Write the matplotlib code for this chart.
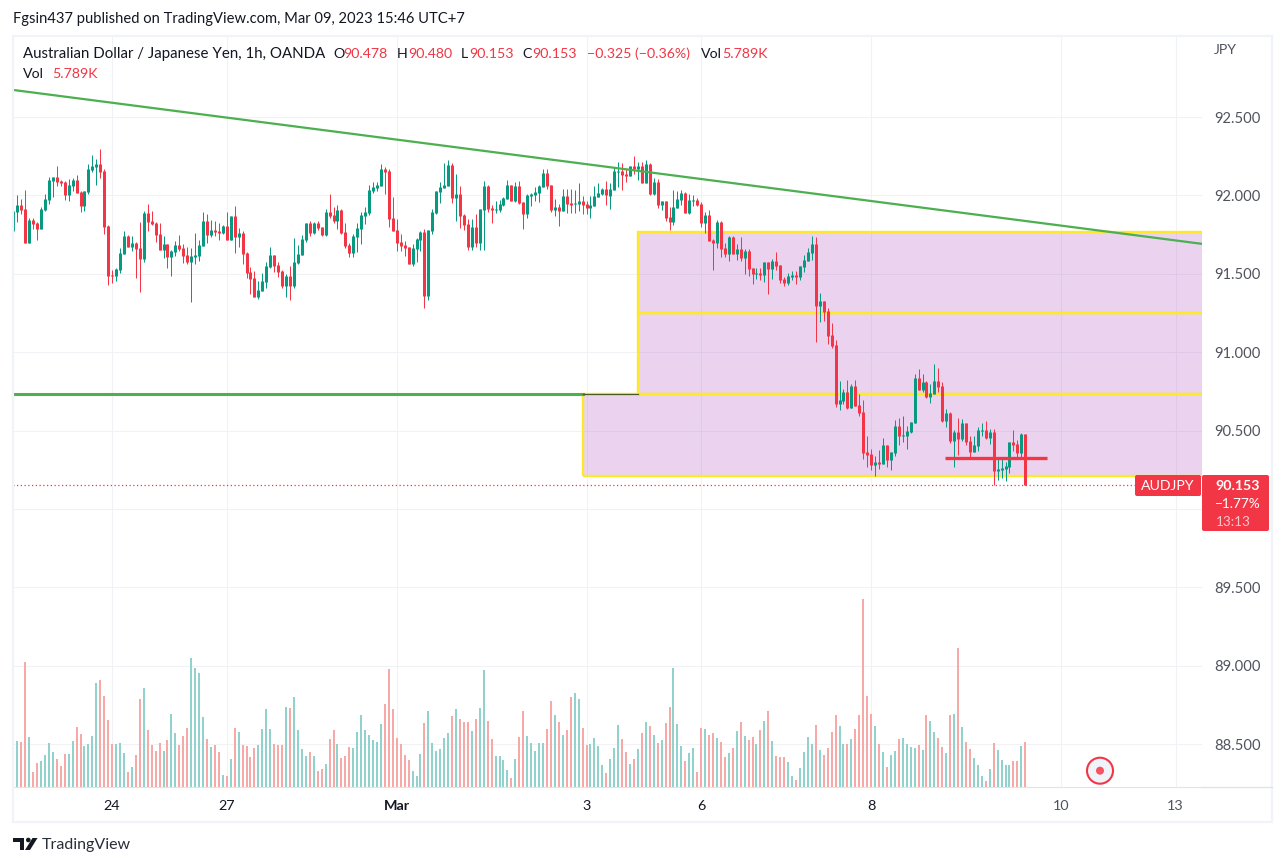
#!/usr/bin/env python3
"""AUD/JPY 1h TradingView snapshot: candles, volume and drawn zones."""

import matplotlib
matplotlib.use('Agg')
import matplotlib.pyplot as plt
from matplotlib.patches import Circle, FancyBboxPatch, Polygon, Rectangle

plt.rcParams['font.family'] = ['Lato', 'DejaVu Sans']

UP = '#089981'
DOWN = '#f23645'
UP_VOL = '#92d2cc'
DOWN_VOL = '#f7a9a7'
GRID = '#f1f2f6'
FRAME = '#f0f3fa'
TEXT = '#131722'
MUTED = '#50535e'

# one value per hourly bar
opens = [
    91.772, 91.894, 91.938, 91.913, 91.696, 91.843, 91.823, 91.785, 91.906, 91.970,
    92.091, 92.117, 92.091, 92.085, 92.002, 92.059, 92.098, 92.021, 91.932, 92.021,
    92.162, 92.181, 92.200, 92.155, 91.804, 91.492, 91.485, 91.523, 91.626, 91.740,
    91.670, 91.696, 91.664, 91.594, 91.887, 91.836, 91.823, 91.753, 91.651, 91.689,
    91.606, 91.638, 91.683, 91.664, 91.619, 91.575, 91.606, 91.613, 91.677, 91.836,
    91.747, 91.779, 91.772, 91.760, 91.804, 91.715, 91.868, 91.734, 91.760, 91.632,
    91.511, 91.472, 91.351, 91.389, 91.447, 91.543, 91.619, 91.555, 91.517, 91.421,
    91.485, 91.421, 91.568, 91.619, 91.715, 91.823, 91.760, 91.823, 91.798, 91.747,
    91.894, 91.874, 91.836, 91.906, 91.766, 91.683, 91.632, 91.734, 91.785, 91.868,
    91.887, 92.028, 92.047, 92.059, 92.168, 92.155, 91.855, 91.779, 91.702, 91.683,
    91.670, 91.562, 91.657, 91.715, 91.766, 91.358, 91.772, 91.887, 92.021, 92.047,
    92.059, 92.193, 91.983, 92.008, 91.874, 91.817, 91.670, 91.798, 91.696, 91.906,
    92.059, 91.919, 91.906, 91.906, 91.938, 91.977, 92.066, 91.964, 92.059, 91.957,
    91.881, 91.996, 92.002, 92.015, 92.053, 92.142, 92.066, 91.906, 91.925, 91.900,
    91.996, 91.951, 91.945, 91.945, 91.964, 91.945, 91.919, 91.932, 91.989, 92.008,
    92.040, 91.996, 92.034, 92.149, 92.155, 92.136, 92.123, 92.187, 92.168, 92.187,
    92.079, 92.200, 92.008, 92.085, 91.939, 91.964, 91.862, 91.830, 91.920, 91.971,
    92.015, 91.888, 91.964, 91.971, 91.945, 91.824, 91.875, 91.715, 91.696, 91.830,
    91.664, 91.626, 91.734, 91.626, 91.658, 91.600, 91.645, 91.537, 91.498, 91.505,
    91.492, 91.575, 91.530, 91.581, 91.556, 91.466, 91.441, 91.479, 91.492, 91.479,
    91.543, 91.581, 91.632, 91.690, 91.294, 91.326, 91.262, 91.109, 91.045, 90.669,
    90.688, 90.745, 90.643, 90.784, 90.662, 90.618, 90.362, 90.350, 90.280, 90.299,
    90.286, 90.407, 90.311, 90.356, 90.528, 90.465, 90.465, 90.490, 90.548, 90.835,
    90.758, 90.809, 90.713, 90.733, 90.816, 90.784, 90.560, 90.611, 90.433, 90.490,
    90.445, 90.548, 90.433, 90.362, 90.401, 90.497, 90.503, 90.452, 90.490, 90.241,
    90.248, 90.254, 90.267, 90.426, 90.414, 90.356, 90.478,
]
highs = [
    91.928, 92.002, 91.977, 92.034, 91.855, 91.855, 91.830, 91.925, 92.008, 92.117,
    92.117, 92.187, 92.098, 92.091, 92.104, 92.111, 92.130, 92.028, 92.028, 92.200,
    92.257, 92.232, 92.296, 92.168, 91.811, 91.523, 91.536, 91.664, 91.772, 91.747,
    91.740, 91.702, 91.830, 91.900, 91.945, 91.900, 91.830, 91.823, 91.740, 91.689,
    91.651, 91.708, 91.747, 91.689, 91.670, 91.664, 91.760, 91.715, 91.894, 91.881,
    91.843, 91.836, 91.823, 91.811, 91.894, 91.868, 91.932, 91.791, 91.772, 91.638,
    91.543, 91.517, 91.453, 91.504, 91.575, 91.670, 91.619, 91.575, 91.523, 91.498,
    91.549, 91.728, 91.683, 91.747, 91.823, 91.836, 91.830, 91.836, 91.798, 91.913,
    92.008, 91.925, 91.938, 91.913, 91.823, 91.696, 91.753, 91.823, 91.894, 91.925,
    92.066, 92.085, 92.085, 92.200, 92.181, 92.168, 91.989, 91.849, 91.753, 91.708,
    91.670, 91.689, 91.728, 91.772, 91.785, 91.779, 91.913, 92.028, 92.085, 92.206,
    92.225, 92.206, 92.136, 92.059, 91.881, 91.849, 91.849, 91.881, 91.913, 92.091,
    92.066, 91.938, 91.964, 91.970, 91.989, 92.098, 92.066, 92.085, 92.091, 91.957,
    92.008, 92.015, 92.053, 92.066, 92.168, 92.168, 92.066, 91.977, 91.945, 92.040,
    92.040, 92.040, 92.034, 92.079, 91.996, 91.964, 91.996, 92.059, 92.079, 92.047,
    92.091, 92.079, 92.181, 92.213, 92.206, 92.168, 92.187, 92.251, 92.213, 92.213,
    92.225, 92.206, 92.111, 92.104, 91.964, 91.964, 91.926, 92.034, 92.028, 92.034,
    92.022, 92.009, 92.002, 91.983, 91.958, 91.894, 91.907, 91.722, 91.843, 91.837,
    91.696, 91.741, 91.741, 91.690, 91.734, 91.658, 91.658, 91.537, 91.537, 91.537,
    91.575, 91.575, 91.594, 91.639, 91.556, 91.479, 91.505, 91.517, 91.517, 91.549,
    91.620, 91.664, 91.741, 91.734, 91.377, 91.326, 91.281, 91.186, 91.077, 90.816,
    90.765, 90.822, 90.796, 90.822, 90.733, 90.694, 90.465, 90.382, 90.337, 90.375,
    90.452, 90.407, 90.362, 90.567, 90.579, 90.592, 90.528, 90.554, 90.860, 90.892,
    90.860, 90.816, 90.796, 90.924, 90.899, 90.809, 90.637, 90.618, 90.503, 90.579,
    90.573, 90.548, 90.465, 90.465, 90.522, 90.548, 90.560, 90.509, 90.509, 90.331,
    90.318, 90.299, 90.426, 90.503, 90.439, 90.484, 90.480,
]
lows = [
    91.772, 91.830, 91.881, 91.696, 91.696, 91.785, 91.715, 91.785, 91.900, 91.945,
    91.989, 92.059, 92.059, 91.970, 91.964, 92.028, 92.015, 91.894, 91.900, 92.008,
    92.149, 92.066, 92.111, 91.753, 91.428, 91.440, 91.453, 91.504, 91.626, 91.670,
    91.645, 91.472, 91.383, 91.575, 91.772, 91.811, 91.702, 91.651, 91.600, 91.536,
    91.485, 91.613, 91.645, 91.568, 91.562, 91.319, 91.562, 91.581, 91.677, 91.696,
    91.734, 91.740, 91.715, 91.753, 91.715, 91.715, 91.632, 91.670, 91.562, 91.472,
    91.370, 91.351, 91.338, 91.389, 91.409, 91.536, 91.511, 91.479, 91.409, 91.351,
    91.332, 91.409, 91.562, 91.619, 91.702, 91.740, 91.753, 91.779, 91.740, 91.740,
    91.855, 91.823, 91.785, 91.753, 91.664, 91.606, 91.606, 91.638, 91.689, 91.817,
    91.874, 92.015, 92.028, 92.059, 92.008, 91.798, 91.772, 91.645, 91.645, 91.613,
    91.562, 91.549, 91.575, 91.645, 91.281, 91.332, 91.753, 91.881, 91.951, 92.047,
    92.059, 91.951, 91.836, 91.791, 91.779, 91.651, 91.651, 91.670, 91.651, 91.651,
    91.894, 91.823, 91.887, 91.894, 91.932, 91.977, 91.964, 91.957, 91.945, 91.785,
    91.855, 91.932, 91.964, 91.957, 92.053, 92.040, 91.894, 91.868, 91.804, 91.900,
    91.887, 91.887, 91.887, 91.900, 91.881, 91.881, 91.855, 91.932, 91.989, 92.002,
    91.938, 91.913, 92.034, 92.053, 92.034, 92.085, 92.123, 92.136, 92.098, 92.079,
    92.079, 92.002, 92.002, 91.919, 91.907, 91.837, 91.779, 91.811, 91.920, 91.939,
    91.888, 91.881, 91.932, 91.932, 91.798, 91.760, 91.709, 91.524, 91.664, 91.607,
    91.607, 91.581, 91.626, 91.588, 91.581, 91.498, 91.486, 91.435, 91.466, 91.460,
    91.447, 91.371, 91.466, 91.524, 91.441, 91.422, 91.428, 91.460, 91.435, 91.460,
    91.511, 91.581, 91.588, 91.064, 91.192, 91.198, 91.052, 91.026, 90.650, 90.631,
    90.669, 90.637, 90.643, 90.656, 90.592, 90.318, 90.267, 90.248, 90.209, 90.254,
    90.286, 90.267, 90.248, 90.337, 90.407, 90.426, 90.382, 90.484, 90.548, 90.758,
    90.745, 90.707, 90.675, 90.733, 90.745, 90.554, 90.522, 90.420, 90.267, 90.343,
    90.433, 90.407, 90.318, 90.362, 90.369, 90.465, 90.445, 90.414, 90.152, 90.184,
    90.197, 90.177, 90.229, 90.369, 90.331, 90.331, 90.153,
]
closes = [
    91.900, 91.938, 91.906, 91.696, 91.843, 91.817, 91.785, 91.913, 91.977, 92.098,
    92.117, 92.085, 92.079, 92.002, 92.066, 92.098, 92.015, 91.932, 92.028, 92.168,
    92.187, 92.200, 92.149, 91.798, 91.485, 91.485, 91.530, 91.632, 91.740, 91.670,
    91.696, 91.657, 91.594, 91.887, 91.830, 91.817, 91.747, 91.651, 91.689, 91.606,
    91.645, 91.683, 91.657, 91.613, 91.575, 91.613, 91.619, 91.683, 91.836, 91.747,
    91.779, 91.766, 91.760, 91.804, 91.715, 91.868, 91.734, 91.760, 91.626, 91.504,
    91.466, 91.351, 91.396, 91.453, 91.549, 91.619, 91.549, 91.511, 91.421, 91.485,
    91.421, 91.575, 91.626, 91.721, 91.823, 91.760, 91.823, 91.791, 91.747, 91.894,
    91.868, 91.836, 91.906, 91.760, 91.677, 91.632, 91.740, 91.791, 91.874, 91.894,
    92.034, 92.053, 92.066, 92.168, 92.149, 91.849, 91.772, 91.696, 91.677, 91.664,
    91.562, 91.664, 91.721, 91.766, 91.358, 91.779, 91.894, 92.028, 92.053, 92.066,
    92.193, 91.983, 92.008, 91.868, 91.811, 91.670, 91.798, 91.696, 91.913, 92.059,
    91.913, 91.906, 91.913, 91.945, 91.983, 92.066, 91.964, 92.059, 91.951, 91.881,
    92.002, 92.008, 92.021, 92.059, 92.142, 92.059, 91.906, 91.925, 91.900, 91.996,
    91.945, 91.938, 91.951, 91.964, 91.938, 91.919, 91.938, 91.996, 92.015, 92.040,
    92.002, 92.040, 92.155, 92.155, 92.130, 92.123, 92.187, 92.168, 92.187, 92.079,
    92.200, 92.008, 92.085, 91.938, 91.964, 91.856, 91.830, 91.926, 91.977, 92.015,
    91.888, 91.971, 91.971, 91.939, 91.824, 91.875, 91.709, 91.696, 91.830, 91.658,
    91.626, 91.734, 91.626, 91.658, 91.600, 91.645, 91.530, 91.498, 91.505, 91.492,
    91.575, 91.530, 91.581, 91.549, 91.460, 91.441, 91.486, 91.492, 91.479, 91.549,
    91.588, 91.639, 91.690, 91.294, 91.326, 91.256, 91.103, 91.039, 90.669, 90.694,
    90.745, 90.643, 90.784, 90.656, 90.611, 90.356, 90.343, 90.280, 90.299, 90.286,
    90.407, 90.311, 90.362, 90.528, 90.465, 90.471, 90.497, 90.554, 90.835, 90.758,
    90.809, 90.713, 90.739, 90.816, 90.777, 90.560, 90.611, 90.433, 90.490, 90.445,
    90.548, 90.426, 90.362, 90.407, 90.503, 90.503, 90.452, 90.490, 90.241, 90.254,
    90.260, 90.273, 90.426, 90.407, 90.356, 90.477, 90.153,
]
# volume in thousands
volumes = [
    9.64, 5.92, 5.79, 16.07, 6.43, 1.93, 3.09, 3.34, 4.12, 5.66,
    4.50, 3.60, 2.70, 4.24, 4.24, 5.92, 7.72, 6.82, 5.27, 5.53,
    6.56, 13.37, 13.76, 11.70, 8.62, 5.53, 5.53, 5.66, 4.37, 1.93,
    2.57, 4.12, 11.32, 12.73, 7.33, 5.40, 4.63, 5.66, 4.63, 6.04,
    9.39, 6.94, 5.40, 6.56, 7.59, 16.59, 15.30, 14.66, 9.00, 6.17,
    5.14, 5.40, 4.50, 1.54, 1.41, 3.60, 7.59, 7.07, 5.40, 5.27,
    3.86, 5.02, 5.40, 7.46, 10.03, 7.46, 5.53, 5.40, 5.40, 10.29,
    10.16, 11.57, 7.33, 4.89, 3.99, 4.50, 3.99, 2.06, 2.32, 2.96,
    6.17, 7.33, 5.53, 3.73, 3.99, 5.14, 5.02, 7.07, 9.26, 7.33,
    6.69, 6.04, 5.79, 8.10, 10.67, 15.17, 10.03, 6.30, 5.53, 4.12,
    3.47, 2.06, 1.41, 4.24, 8.23, 9.77, 5.66, 4.63, 4.89, 6.30,
    6.94, 9.13, 10.03, 8.74, 8.36, 8.36, 7.20, 8.74, 10.16, 15.05,
    8.49, 6.17, 3.99, 3.99, 3.47, 2.19, 1.16, 3.60, 6.43, 9.77,
    6.56, 5.66, 4.63, 5.66, 5.66, 7.46, 11.06, 9.26, 8.36, 6.69,
    7.33, 11.57, 12.09, 11.32, 7.59, 5.40, 5.53, 6.30, 5.27, 2.83,
    1.80, 3.60, 5.02, 7.97, 6.17, 4.50, 2.96, 3.60, 4.89, 6.94,
    8.36, 7.84, 6.69, 5.66, 6.04, 8.23, 10.29, 15.30, 8.10, 5.27,
    3.34, 4.37, 5.02, 1.93, 7.59, 7.46, 6.69, 6.94, 6.30, 5.79,
    3.86, 4.37, 5.02, 7.20, 8.36, 6.56, 6.04, 6.43, 5.53, 7.33,
    8.49, 9.77, 5.92, 3.99, 3.86, 3.86, 3.22, 1.41, 0.90, 2.44,
    4.50, 6.43, 5.53, 7.97, 4.76, 4.12, 5.02, 7.07, 9.26, 7.84,
    5.53, 5.53, 6.17, 7.46, 9.26, 24.17, 11.70, 9.39, 7.84, 5.53,
    4.50, 2.57, 4.12, 4.63, 6.17, 6.30, 5.53, 5.14, 5.02, 5.40,
    4.76, 9.26, 8.49, 7.07, 6.30, 5.14, 4.37, 9.26, 9.39, 17.87,
    7.72, 5.79, 4.89, 3.73, 2.83, 1.41, 0.77, 2.32, 5.66, 4.76,
    3.47, 2.83, 2.83, 3.34, 3.34, 5.27, 5.79,
]

bars = list(range(len(opens)))
price_ticks = [88.5, 89.0, 89.5, 90.0, 90.5, 91.0, 91.5, 92.0, 92.5]
# 90.000 sits under the last price tag in the reference, so it has no label
price_labels = ['88.500', '89.000', '89.500', '', '90.500', '91.000', '91.500', '92.000', '92.500']
time_ticks = [25, 54, 97, 145, 174, 217, 265, 294]
time_labels = ['24', '27', 'Mar', '3', '6', '8', '10', '13']

# drawn objects, in (bar, price)
zones = [(158, 91.25, 91.766), (158, 90.733, 91.25), (144, 90.21, 90.733)]
trend_x, trend_y = [-1, 301], [92.676, 91.69]
support_price = 90.73
support_end, support_tail = 144, 158
cross_x, cross_price = [235.7, 261.5], 90.322
last_price = 90.153

fig = plt.figure(figsize=(12.87, 8.66), dpi=100, facecolor='white')
ax = fig.add_axes([13 / 1287, 1 - 787 / 866, 1189 / 1287, 751 / 866])
ax_vol = ax.twinx()
ax.yaxis.tick_right()

ax.set_xlim(-0.08, 300.7)
ax.set_ylim(88.226, 93.017)
ax.set_xticks(time_ticks, time_labels)
ax.set_yticks(price_ticks, price_labels)
ax.tick_params(axis='x', length=0, pad=9, labelsize=10.4, labelcolor=TEXT)
ax.tick_params(axis='y', length=0, pad=9, labelsize=10.6, labelcolor=MUTED)
ax.grid(True, color=GRID, lw=0.8)
ax.set_axisbelow(True)
for side in ('top', 'left', 'right'):
    ax.spines[side].set_visible(False)
ax.spines['bottom'].set_color('#e0e3eb')
labels = ax.get_xticklabels()
labels[2].set_fontweight('bold')
for lab in labels[-2:]:
    lab.set_color(MUTED)

# zones
for left, low, high in zones:
    ax.add_patch(Rectangle((left, low), 320, high - low, facecolor='#9c27b0',
                           alpha=0.2, lw=0, zorder=1))
    ax.add_patch(Rectangle((left, low), 320, high - low, fill=False,
                           edgecolor='#fde82c', lw=1.7, zorder=1.5))

# candles: wicks 1px, bodies 3px
colors = [UP if c >= o else DOWN for o, c in zip(opens, closes)]
ax.vlines(bars, lows, highs, colors=colors, lw=0.72, zorder=3)
ax.vlines(bars, opens, closes, colors=colors, lw=2.16, capstyle='butt', zorder=3)

# lines
ax.plot(trend_x, trend_y, color='#4caf50', lw=1.6, zorder=4)
ax.plot([-1, support_end], [support_price] * 2, color='#4caf50', lw=2.2, zorder=4)
ax.plot([support_end, support_tail], [support_price] * 2, color='#4a5a20', lw=0.9, zorder=4)
ax.plot(cross_x, [cross_price] * 2, color=DOWN, lw=2.4, solid_capstyle='butt', zorder=5)
ax.plot([-1, 301], [last_price] * 2, color=DOWN, lw=0.9, ls=(0, (1, 2)), zorder=2)

# volume pane shares the price pane area
ax_vol.set_ylim(0, 96.6)
ax_vol.vlines(bars, 0, volumes, lw=1.44, capstyle='butt',
              colors=[UP_VOL if c == UP else DOWN_VOL for c in colors])
ax_vol.set_axis_off()

# page furniture, in pixels
over = fig.add_axes([0, 0, 1, 1], zorder=10)
over.set_xlim(0, 1287)
over.set_ylim(866, 0)
over.set_axis_off()
over.add_patch(Rectangle((13, 36), 1259, 786, fill=False, edgecolor=FRAME, lw=1.6))
over.plot([1202, 1272], [787, 787], color='#e0e3eb', lw=1)


def label(x, y, s, color=TEXT, size=10.2, **kw):
    over.text(x, y, s, color=color, fontsize=size, va='center', **kw)


label(13, 19, 'Fgsin437 published on TradingView.com, Mar 09, 2023 15:46 UTC+7', size=10.62)
label(23, 54, 'Australian Dollar / Japanese Yen, 1h, OANDA', size=10.82)
for x, s in [(333, 'O'), (397, 'H'), (461, 'L'), (522, 'C'), (701, 'Vol')]:
    label(x, 54, s)
for x, s in [(343, '90.478'), (408, '90.480'), (469, '90.153'), (532, '90.153'),
             (587, '\u22120.325 (\u22120.36%)'), (722, '5.789K')]:
    label(x, 54, s, color=DOWN)
label(23, 74, 'Vol')
label(52, 74, '5.789K', color=DOWN)
label(1214, 50, 'JPY', color=MUTED)

# last price tags
over.add_patch(FancyBboxPatch((1136, 476), 64, 19, boxstyle='round,pad=1,rounding_size=2',
                              facecolor=DOWN, lw=0))
over.add_patch(FancyBboxPatch((1203, 476), 65, 54, boxstyle='round,pad=1,rounding_size=2',
                              facecolor=DOWN, lw=0))
label(1141, 485.5, 'AUDJPY', color='white')
label(1215, 485.5, '90.153', color='white', fontweight='bold')
label(1215, 503.5, '\u22121.77%', color='white', size=9.8)
label(1216, 521.5, '13:13', color='#fbc4c9', size=9.8)

# replay marker
over.add_patch(Circle((1100, 770.7), 13, facecolor=FRAME, edgecolor=DOWN, lw=1.5))
over.add_patch(Circle((1100, 770.7), 4, facecolor='#f7525f', lw=0))

# logo
over.add_patch(Polygon([(13, 837.5), (24, 837.5), (24, 850), (19.5, 850), (19.5, 842), (13, 842)],
                       facecolor=TEXT, lw=0))
over.add_patch(Circle((28.3, 840), 2.3, facecolor=TEXT, lw=0))
over.add_patch(Polygon([(32.5, 838), (37.5, 838), (30, 850), (25, 850)], facecolor=TEXT, lw=0))
label(42, 845, 'TradingView', color='#2a2e39', size=11.5)

fig.savefig('out.png', dpi=100)
